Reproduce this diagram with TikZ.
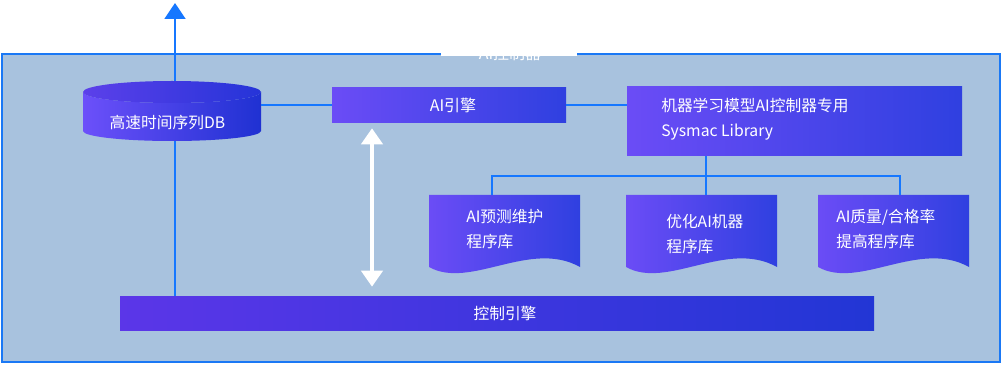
\documentclass[tikz,border=0pt]{standalone}
\usepackage{fontspec}
\setmainfont{Noto Sans CJK SC}
\usetikzlibrary{arrows.meta,calc}
\definecolor{bgfill}{HTML}{A8C2DE}
\definecolor{frame}{HTML}{1A78F5}
\definecolor{conncol}{HTML}{1677FF}
\definecolor{gl}{HTML}{6B4CF6}
\definecolor{gr}{HTML}{2F40E0}
\definecolor{cl}{HTML}{6C50FA}
\definecolor{cr}{HTML}{1F31D2}
\definecolor{tl}{HTML}{5C40EA}
\definecolor{tr}{HTML}{2534D8}
\definecolor{bl}{HTML}{5B36E8}
\definecolor{br}{HTML}{2236D5}
\tikzset{
  conn/.style={draw=conncol, line width=1.5pt},
  gbox/.style={left color=gl, right color=gr, draw=none, inner sep=0pt, text=white},
  anch/.style={inner sep=0pt, draw=none},
  txt/.style={text=white, inner sep=0pt, font=\fontsize{11.8pt}{18.75pt}\selectfont, align=left},
  dblarrow/.style={draw=white, line width=3pt, {Triangle[width=15.75pt,length=12pt]}-{Triangle[width=15.75pt,length=12pt]}},
}
\begin{document}
\begin{tikzpicture}[x=0.75pt,y=-0.75pt]
\useasboundingbox (0,0) rectangle (1002,370);
\fill[white] (0,0) rectangle (1002,370);
% outer frame
\draw[fill=bgfill, draw=frame, line width=1.5pt] (2,54) rectangle (1000,362);
\fill[white] (441,44) rectangle (577,55.6);
\node[text=white, inner sep=0pt, font=\fontsize{12pt}{14pt}\selectfont] (title) at (510,53) {AI控制器};

% cylinder
\node[anch, minimum width=133.5pt, minimum height=45pt] (db) at (172,111) {};
\shade[left color=cl, right color=cr]
  (83,92) -- (83,131) .. controls (83,136.52) and (122.85,141) .. (172,141)
  .. controls (221.15,141) and (261,136.52) .. (261,131) -- (261,92)
  .. controls (261,98.08) and (221.15,103) .. (172,103)
  .. controls (122.85,103) and (83,98.08) .. (83,92) -- cycle;
\shade[left color=tl, right color=tr]
  (83,92) .. controls (83,85.92) and (122.85,81) .. (172,81)
  .. controls (221.15,81) and (261,85.92) .. (261,92)
  .. controls (261,98.08) and (221.15,103) .. (172,103)
  .. controls (122.85,103) and (83,98.08) .. (83,92) -- cycle;
\node[txt] (dbtext) at (167.5,123) {高速时间序列DB};

% boxes
\node[gbox, minimum width=175.5pt, minimum height=26.25pt, font=\fontsize{12pt}{14pt}\selectfont] (ai) at (449,105.5) {\hspace*{6pt}AI引擎};
\node[gbox, minimum width=251.25pt, minimum height=51.75pt] (ml) at (794.5,121.5) {};
\node[txt, anchor=west] (mltext) at (661,119.5) {机器学习模型AI控制器专用\\Sysmac Library};
\node[anch, left color=bl, right color=br, minimum width=565.5pt, minimum height=25.5pt, text=white, font=\fontsize{11.8pt}{14pt}\selectfont] (ctl) at (497,313) {\hspace*{12pt}控制引擎};

% documents
\foreach \sx/\nm in {0/d1, 197/d2, 389/d3}{
  \begin{scope}[shift={(\sx,0)}]
    \shade[left color=gl, right color=gr]
      (429,195) -- (580,195) -- (580,267) .. controls (530,239) and (470,290) .. (429,267) -- cycle;
    \node[anch, minimum width=113.25pt, minimum height=54pt] (\nm) at (504.5,231) {};
  \end{scope}
}
\node[txt, anchor=west] (d1text) at (466,229.5) {AI预测维护\\程序库};
\node[txt, anchor=west] (d2text) at (666,234) {优化AI机器\\程序库};
\node[txt, anchor=west] (d3text) at (836,229.5) {AI质量/合格率\\提高程序库};

% connectors
\coordinate (c1) at (492,176);
\coordinate (c2) at (706,176);
\coordinate (c3) at (900,176);
\coordinate (vx) at (175,0);
\coordinate (top) at (175,3);
\coordinate (ax) at (372,0);
\draw[conn] (ai.west) -- (ai.west -| db.east);
\draw[conn] (ai.east) -- (ai.east -| ml.west);
\draw[conn] (c2 |- ml.south) -- (c2 |- d2.north);
\draw[conn] (c1 |- d1.north) -- (c1) -- (c3) -- (c3 |- d3.north);
\draw[conn] (vx |- db.south) -- (vx |- ctl.north);
\draw[conn, -{Triangle[width=15.75pt,length=12pt]}] (vx |- db.north) -- (top);
\draw[dblarrow, shorten <=3.75pt, shorten >=6.75pt] (ai.south -| ax) -- (ctl.north -| ax);
\end{tikzpicture}
\end{document}
